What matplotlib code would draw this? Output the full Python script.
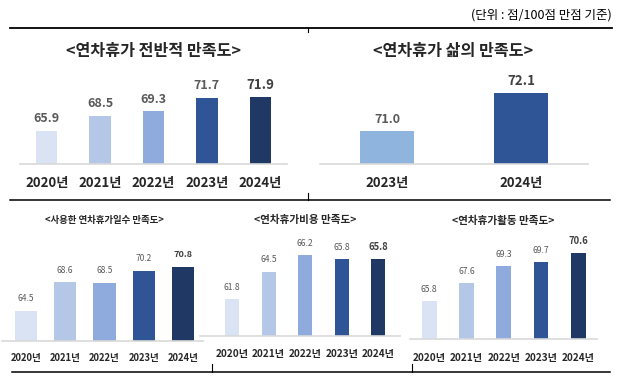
import matplotlib
matplotlib.use("Agg")
import matplotlib.pyplot as plt
from matplotlib.lines import Line2D

plt.rcParams['font.family'] = ['Noto Sans CJK KR', 'DejaVu Sans']

# data
years = ["2020년", "2021년", "2022년", "2023년", "2024년"]
overall = [65.9, 68.5, 69.3, 71.7, 71.9]
life_years = ["2023년", "2024년"]
life = [71.0, 72.1]
days = [64.5, 68.6, 68.5, 70.2, 70.8]
cost = [61.8, 64.5, 66.2, 65.8, 65.8]
activity = [65.8, 67.6, 69.3, 69.7, 70.6]

colors5 = ["#dae3f3", "#b4c7e7", "#8faadc", "#2f5597", "#203864"]
colors2 = ["#8fb4de", "#2f5597"]

W, H = 622, 385
fig = plt.figure(figsize=(W / 100, H / 100), dpi=100)


def px_axes(left, right, top, baseline):
    # pixel box (from top-left corner) -> figure axes
    return fig.add_axes([left / W, 1 - baseline / H, (right - left) / W, (baseline - top) / H])


def bar_panel(ax, labels, values, colors, width, xlim, ylim, vsize, ysize, ypad, vweight="bold"):
    x = list(range(len(values)))
    ax.bar(x, values, width=width, color=colors, zorder=2)
    ax.set_xlim(*xlim)
    ax.set_ylim(*ylim)
    for s in ["top", "right", "left"]:
        ax.spines[s].set_visible(False)
    ax.spines["bottom"].set_color("#d9d9d9")
    ax.spines["bottom"].set_linewidth(1.2)
    ax.set_yticks([])
    ax.set_xticks([])
    ax.patch.set_alpha(0)
    for i, v in enumerate(values):
        last = i == len(values) - 1
        ax.annotate(f"{v:.1f}", xy=(i, v), xytext=(0, 12), textcoords="offset pixels",
                    ha="center", va="center", fontsize=vsize + (0.6 if last else 0),
                    color="#404040" if last else "#595959",
                    fontweight="bold" if last else vweight)
        ax.annotate(labels[i], xy=(i, 0), xycoords=("data", "axes fraction"),
                    xytext=(0, -ypad), textcoords="offset pixels",
                    ha="center", va="center", fontsize=ysize,
                    fontweight="bold", color="#262626")


# top row
ax1 = px_axes(20, 287, 70, 164)
bar_panel(ax1, years, overall, colors5, 0.4, (-0.5, 4.5), (60, 60 + 94 / 5.67), 9, 9.5, 19)
ax2 = px_axes(320, 588, 70, 164)
bar_panel(ax2, life_years, life, colors2, 0.4, (-0.5, 1.5), (70.05, 70.05 + 94 / 34.5), 9, 9.5, 19)

# bottom row
ax3 = px_axes(2, 203, 245, 341)
bar_panel(ax3, years, days, colors5, 0.56, (-0.6, 4.5), (60.2, 60.2 + 96 / 7.0), 6, 6.8, 17, "medium")
ax4 = px_axes(200, 400, 240, 336)
bar_panel(ax4, years, cost, colors5, 0.38, (-0.88, 4.6), (58.1, 58.1 + 96 / 10.0), 6.2, 7.2, 18, "medium")
ax5 = px_axes(410, 597, 243, 339)
bar_panel(ax5, years, activity, colors5, 0.4, (-0.51, 4.5), (62.0, 62.0 + 96 / 10.0), 6.2, 7.2, 19, "medium")

# titles
def ftext(x, y, s, **kw):
    fig.text(x / W, 1 - y / H, s, **kw)


ftext(154, 51, "<연차휴가 전반적 만족도>", ha="center", va="center", fontsize=11.6,
      fontweight="bold", color="#262626")
ftext(453, 51, "<연차휴가 삶의 만족도>", ha="center", va="center", fontsize=11.6,
      fontweight="bold", color="#262626")
ftext(104, 220, "<사용한 연차휴가일수 만족도>", ha="center", va="center", fontsize=6.8,
      fontweight="bold", color="#262626")
ftext(305, 220, "<연차휴가비용 만족도>", ha="center", va="center", fontsize=7.6,
      fontweight="bold", color="#262626")
ftext(503, 221, "<연차휴가활동 만족도>", ha="center", va="center", fontsize=7.6,
      fontweight="bold", color="#262626")
ftext(612, 15, "(단위 : 점/100점 만점 기준)", ha="right", va="center", fontsize=9,
      color="#000000")


# frame lines
def fline(x0, y0, x1, y1, lw=1.2):
    fig.add_artist(Line2D([x0 / W, x1 / W], [1 - y0 / H, 1 - y1 / H],
                          transform=fig.transFigure, color="black", lw=lw))


fline(10, 28, 612, 28, 1.3)
fline(10, 199.5, 610, 199.5, 1.1)
fline(12, 372, 610, 372, 1.1)
fline(308, 28, 308, 32, 0.8)
fline(308, 193, 308, 199.5, 0.8)
fline(212, 364, 212, 372, 0.8)
fline(412, 364, 412, 372, 0.8)

fig.savefig("out.png", dpi=100)
